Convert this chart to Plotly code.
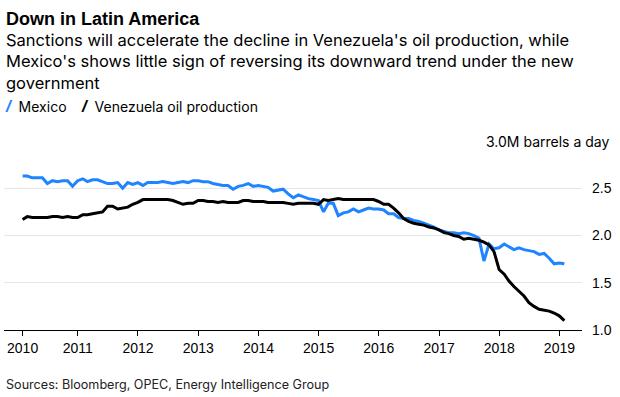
import pandas as pd
import plotly.graph_objects as go

# Monthly data, Jan 2010 - Jan 2019 (million barrels a day)
dates = pd.date_range("2010-01-31", "2019-01-31", freq="ME")

mexico = [
    2.63, 2.63, 2.61, 2.61, 2.61, 2.55, 2.58, 2.57, 2.58, 2.58, 2.52, 2.58,
    2.60, 2.57, 2.59, 2.59, 2.57, 2.55, 2.55, 2.56, 2.50, 2.56, 2.54, 2.56,
    2.53, 2.56, 2.56, 2.56, 2.57, 2.56, 2.55, 2.56, 2.57, 2.56, 2.58, 2.58,
    2.57, 2.57, 2.55, 2.54, 2.53, 2.53, 2.49, 2.52, 2.53, 2.55, 2.52, 2.53,
    2.52, 2.51, 2.47, 2.48, 2.49, 2.44, 2.40, 2.43, 2.41, 2.39, 2.38, 2.37,
    2.25, 2.34, 2.34, 2.21, 2.24, 2.25, 2.28, 2.25, 2.27, 2.29, 2.28, 2.28,
    2.27, 2.23, 2.23, 2.19, 2.18, 2.18, 2.16, 2.15, 2.13, 2.11, 2.09, 2.06,
    2.04, 2.03, 2.03, 2.02, 2.03, 2.02, 2.00, 1.97, 1.73, 1.91, 1.86, 1.87,
    1.91, 1.88, 1.85, 1.87, 1.85, 1.84, 1.83, 1.80, 1.81, 1.76, 1.70, 1.71,
    1.70,
]

venezuela = [
    2.17, 2.20, 2.19, 2.19, 2.19, 2.19, 2.20, 2.20, 2.19, 2.20, 2.19, 2.19,
    2.22, 2.22, 2.23, 2.24, 2.25, 2.31, 2.31, 2.28, 2.29, 2.30, 2.33, 2.35,
    2.38, 2.38, 2.38, 2.38, 2.38, 2.38, 2.37, 2.35, 2.33, 2.34, 2.34, 2.37,
    2.37, 2.36, 2.36, 2.35, 2.36, 2.35, 2.35, 2.35, 2.37, 2.37, 2.36, 2.36,
    2.36, 2.35, 2.35, 2.35, 2.35, 2.34, 2.33, 2.34, 2.34, 2.34, 2.34, 2.33,
    2.38, 2.37, 2.38, 2.39, 2.38, 2.38, 2.38, 2.38, 2.38, 2.38, 2.38, 2.36,
    2.33, 2.33, 2.29, 2.24, 2.18, 2.15, 2.13, 2.12, 2.11, 2.09, 2.08, 2.06,
    2.03, 2.02, 2.00, 1.99, 1.96, 1.97, 1.96, 1.95, 1.93, 1.90, 1.83, 1.64,
    1.59, 1.52, 1.46, 1.41, 1.36, 1.29, 1.25, 1.22, 1.21, 1.20, 1.18, 1.15,
    1.10,
]

series_names = ["Mexico", "Venezuela oil production"]
series_colors = ["#1f84ff", "#000000"]

x_tick_vals = ["2010-01-31"] + [f"{y}-01-01" for y in range(2011, 2020)]
x_tick_text = [str(y) for y in range(2010, 2020)]
y_tick_vals = [1.0, 1.5, 2.0, 2.5, 3.0]
y_tick_text = ["1.0", "1.5", "2.0", "2.5", ""]

title = "Down in Latin America"
subtitle = ("Sanctions will accelerate the decline in Venezuela's oil production, while<br>"
            "Mexico's shows little sign of reversing its downward trend under the new<br>"
            "government")
unit_label = "3.0M barrels a day"
source = "Sources: Bloomberg, OPEC, Energy Intelligence Group"

FONT = "Liberation Sans, Arial, sans-serif"
TFONT = "Inter, Liberation Sans, sans-serif"

fig = go.Figure()
for name, vals, col in zip(series_names, [mexico, venezuela], series_colors):
    fig.add_trace(go.Scatter(x=dates, y=vals, mode="lines", name=name,
                             line=dict(color=col, width=3)))

W, H = 620, 397
L, R, T, B = 4, 38, 141, 67
ph = H - T - B
pw = W - L - R

def py(p):
    return (H - B - p) / ph

def px(p):
    return (p - L) / pw

ann = []
ann.append(dict(text=f"<b>{title}</b>", x=px(4), y=py(7), xref="paper", yref="paper",
                xanchor="left", yanchor="top", showarrow=False,
                font=dict(size=18, color="#000", family=FONT), align="left"))
ann.append(dict(text=subtitle, x=px(4), y=py(28), xref="paper", yref="paper",
                xanchor="left", yanchor="top", showarrow=False,
                font=dict(size=16.5, color="#000", family=TFONT), align="left"))
leg_x = [3, 79]
for name, col, lx in zip(series_names, series_colors, leg_x):
    ann.append(dict(text=(f"<span style='color:{col};font-size:17px;font-family:Liberation Sans'>"
                          f"<b><i>/</i></b></span>&nbsp;&nbsp;{name}"),
                    x=px(lx), y=py(106), xref="paper", yref="paper",
                    xanchor="left", yanchor="middle", showarrow=False,
                    font=dict(size=14, color="#000", family=TFONT)))
ann.append(dict(text=unit_label, x=1, xshift=33, y=3.0, xref="paper", yref="y",
                xanchor="right", yanchor="middle", showarrow=False,
                bgcolor="white", borderpad=5,
                font=dict(size=14, color="#000", family=TFONT)))
ann.append(dict(text=source, x=px(4), y=py(384), xref="paper", yref="paper",
                xanchor="left", yanchor="middle", showarrow=False,
                font=dict(size=12.6, color="#222", family=TFONT)))

fig.update_layout(
    width=W, height=H,
    margin=dict(l=L, r=R, t=T, b=B),
    paper_bgcolor="white", plot_bgcolor="white",
    showlegend=False,
    font=dict(family=FONT, size=14, color="#000"),
    annotations=ann,
    xaxis=dict(type="date", range=["2009-10-10", "2019-05-18"],
               tickmode="array", tickvals=x_tick_vals, ticktext=x_tick_text,
               ticks="outside", ticklen=5, tickcolor="#000", tickwidth=1,
               showline=True, linecolor="#000", linewidth=1,
               showgrid=False, zeroline=False,
               tickfont=dict(size=14, color="#000")),
    yaxis=dict(side="right", range=[1.0, 3.0],
               tickmode="array", tickvals=y_tick_vals, ticktext=y_tick_text,
               showgrid=True, gridcolor="#e6e6e6", gridwidth=1,
               zeroline=False, showline=False, ticks="",
               ticklabelstandoff=9,
               tickfont=dict(size=14, color="#000")),
)

fig.write_html("out.html", config={"displayModeBar": False},
               post_script="document.body.style.margin='0';")
